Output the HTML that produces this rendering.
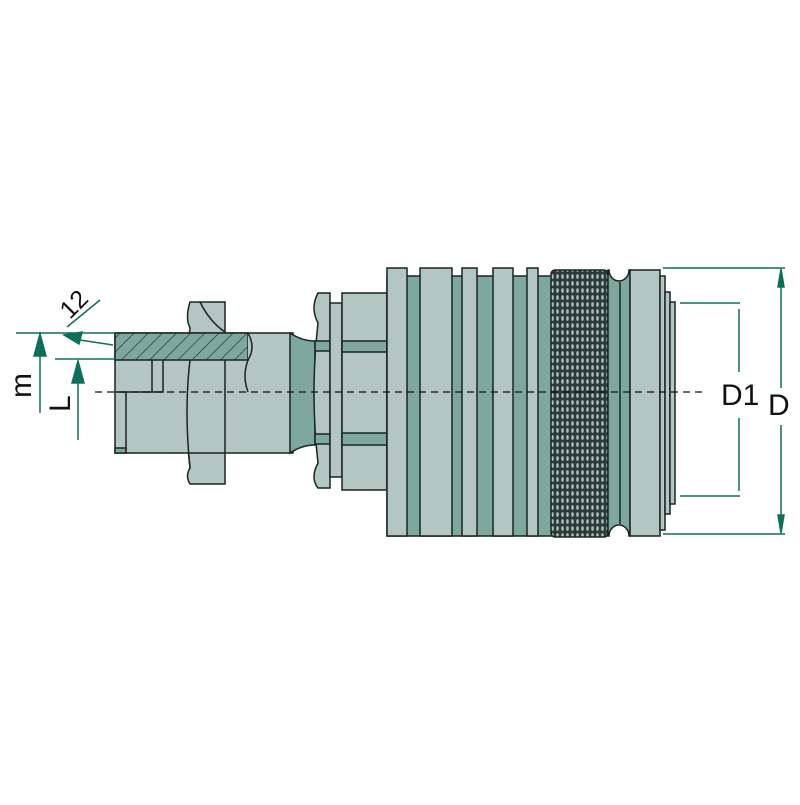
<!DOCTYPE html>
<html><head><meta charset="utf-8"><style>html,body{margin:0;padding:0;background:#fff}</style></head>
<body>
<svg width="800" height="800" viewBox="0 0 800 800" xmlns="http://www.w3.org/2000/svg">
<defs>
<pattern id="hatch" width="10" height="10" patternUnits="userSpaceOnUse" patternTransform="rotate(45)">
<rect width="10" height="10" fill="#7fa89c"/><line x1="0" y1="0" x2="0" y2="10" stroke="#1a2a26" stroke-width="1.3"/>
</pattern>
<pattern id="knurl" width="5" height="7" patternUnits="userSpaceOnUse">
<rect width="5" height="7" fill="#2c3b37"/><ellipse cx="2.5" cy="3.5" rx="1.3" ry="2.4" fill="#a9bfba"/>
</pattern>
</defs>
<g stroke="#1a2422" stroke-width="1.5">
<!-- nut (behind pipe) -->
<path d="M190 302 H225 V484 H190 q-5 -8 0 -16 q-8 -70 0 -140 q-5 -10 0 -26 Z" fill="#b3c6c1"/>
<path d="M200 302 q10 20 25 30" fill="none"/>
<!-- pipe -->
<rect x="115" y="333" width="178" height="120" fill="#b3c6c1"/>
<rect x="115" y="333" width="133" height="27" fill="url(#hatch)"/>
<path d="M248 333 q8 14 0 27" fill="#b3c6c1"/>
<path d="M115 392 H163 V360 M152 360 V392 M126 392 V453" fill="none"/>
<rect x="115" y="448" width="11" height="5" fill="#7fa89c"/>
<path d="M248 360 q-6 16 0 32" fill="none"/>
<path d="M190 360 q-6 50 0 108 M225 360 V453" fill="none"/>
<!-- neck -->
<path d="M290 333 q12 8 25 8 V445 q-13 0 -25 8 Z" fill="#7fa89c"/>
<!-- flange -->
<path d="M318 293 H330 V488 H318 q-8 -10 0 -25 q-8 -70 0 -140 q-8 -15 0 -30 Z" fill="#b3c6c1"/>
<rect x="315" y="341" width="15" height="10" fill="#7fa89c"/>
<rect x="315" y="434" width="15" height="10" fill="#7fa89c"/>
<rect x="330" y="303" width="12" height="174" fill="#b3c6c1"/>
<rect x="342" y="293" width="45" height="197" fill="#b3c6c1"/>
<rect x="342" y="341" width="45" height="11" fill="#7fa89c"/>
<rect x="342" y="433" width="45" height="12" fill="#7fa89c"/>
<!-- main body -->
<rect x="387" y="276" width="165" height="260" fill="#7fa89c"/>
<rect x="387" y="268" width="20" height="268" fill="#b3c6c1"/>
<rect x="420" y="268" width="32" height="268" fill="#b3c6c1"/>
<rect x="462" y="268" width="15" height="268" fill="#b3c6c1"/>
<rect x="493" y="268" width="20" height="268" fill="#b3c6c1"/>
<rect x="527" y="268" width="11" height="268" fill="#b3c6c1"/>
<rect x="551" y="270" width="57" height="267" rx="4" fill="url(#knurl)"/>
<path d="M608 270 H609 A10 11 0 0 0 629 270 H630 V536 H629 A10 11 0 0 0 609 536 H608 Z" fill="#7fa89c"/>
<line x1="620" y1="282" x2="620" y2="524"/>
<rect x="630" y="270" width="30" height="266" fill="#b3c6c1"/>
<rect x="660" y="276" width="5" height="254" fill="#b3c6c1"/>
<rect x="665" y="292" width="5" height="222" fill="#b3c6c1"/>
<rect x="670" y="302" width="5" height="202" fill="#b3c6c1"/>
</g>
<line x1="95" y1="392" x2="705" y2="392" stroke="#111" stroke-width="1.3" stroke-dasharray="7,5"/>
<g stroke="#0e6e5a" stroke-width="1.5" fill="#0e6e5a">
<line x1="663" y1="268" x2="785" y2="268"/><line x1="663" y1="534" x2="785" y2="534"/>
<line x1="781" y1="272" x2="781" y2="388"/><line x1="781" y1="425" x2="781" y2="530"/>
<path d="M781 269 l-3 18 h6 Z"/><path d="M781 533 l-3 -18 h6 Z"/>
<line x1="680" y1="303" x2="740" y2="303"/><line x1="680" y1="496" x2="740" y2="496"/>
<line x1="739" y1="309" x2="739" y2="372"/><line x1="739" y1="418" x2="739" y2="491"/>
<line x1="16" y1="333" x2="115" y2="333"/><line x1="55" y1="359" x2="115" y2="359"/>
<line x1="40" y1="350" x2="40" y2="413"/><path d="M40 334 l-6 22 h12 Z"/>
<line x1="78" y1="375" x2="78" y2="440"/><path d="M78 361 l-6 22 h12 Z"/>
<line x1="67" y1="327" x2="100" y2="300"/>
<line x1="80" y1="340" x2="113" y2="345"/><path d="M64 335 l18 -3 l-3 12 Z"/>
</g>
<g font-family="Liberation Sans, sans-serif" fill="#111">
<text x="721" y="405" font-size="30">D1</text>
<text x="768" y="415" font-size="30">D</text>
<text transform="translate(31,398) rotate(-90)" font-size="30">m</text>
<text transform="translate(70,412) rotate(-90)" font-size="30">L</text>
<text transform="translate(70,320) rotate(-45)" font-size="25">12</text>
</g>
</svg>
</body></html>
